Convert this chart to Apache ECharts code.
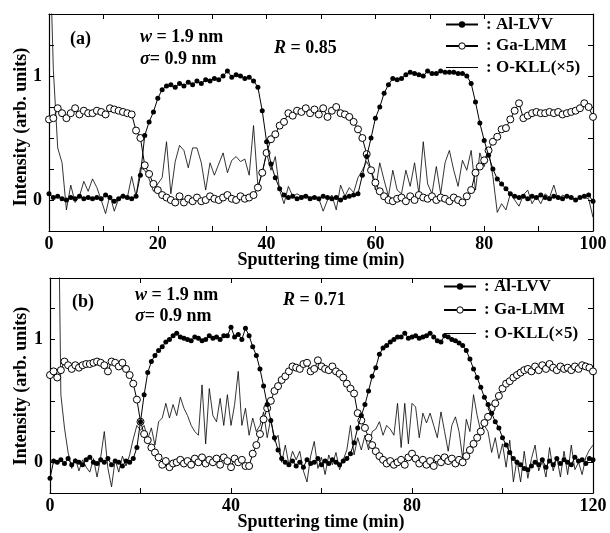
<!DOCTYPE html>
<html>
<head>
<meta charset="utf-8">
<script src="https://cdn.jsdelivr.net/npm/echarts@6/dist/echarts.min.js"></script>
<style>
  html, body { margin: 0; padding: 0; background: #fff; }
  #chart { width: 610px; height: 533px; }
</style>
</head>
<body>
<div id="chart"></div>
<script>
// Depth profiles: Auger intensities vs sputtering time, two samples.
// Sampling interval of the depth profiles (min)
const STEP_A = 0.8;
const STEP_B = 0.8;

// Panel (a): 0–100 min
const alA = [0.05,0.02,0.03,0.01,0.00,0.02,0.01,0.03,0.01,0.02,
  0.01,0.02,0.01,0.04,0.02,-0.01,0.01,0.03,0.02,0.01,
  0.03,0.20,0.52,0.63,0.71,0.82,0.89,0.92,0.93,0.91,
  0.94,0.92,0.95,0.93,0.96,0.94,0.97,0.96,0.98,0.97,
  1.00,1.04,0.99,1.01,1.00,0.98,0.99,0.96,0.91,0.72,
  0.47,0.29,0.18,0.09,0.04,0.02,0.03,0.01,0.02,0.03,
  0.01,0.02,0.01,0.03,0.02,0.01,0.02,0.00,0.02,0.03,
  0.04,0.05,0.20,0.35,0.50,0.66,0.75,0.86,0.93,0.98,
  0.97,0.98,1.01,1.03,1.02,1.01,1.00,1.04,1.02,1.02,
  1.04,1.03,1.03,1.03,1.02,1.02,1.00,0.94,0.79,0.62,
  0.48,0.36,0.25,0.17,0.13,0.09,0.05,0.03,0.02,0.03,
  0.01,0.03,0.02,0.04,0.02,0.01,0.03,0.02,0.01,0.03,
  0.02,0.00,0.02,0.03,0.04,-0.01];
const gaA = [0.65,0.66,0.74,0.70,0.66,0.70,0.74,0.69,0.72,0.70,
  0.70,0.72,0.71,0.69,0.74,0.73,0.72,0.71,0.70,0.69,
  0.56,0.50,0.28,0.21,0.13,0.08,0.04,0.02,0.00,-0.02,
  0.03,-0.02,0.01,-0.01,0.02,-0.01,0.00,0.03,0.01,0.00,
  0.02,0.04,0.01,0.00,0.03,0.01,0.02,0.04,0.10,0.22,
  0.38,0.49,0.53,0.60,0.63,0.70,0.68,0.72,0.71,0.74,
  0.70,0.73,0.69,0.74,0.67,0.72,0.75,0.70,0.69,0.67,
  0.63,0.57,0.50,0.37,0.24,0.14,0.07,0.03,0.00,-0.01,
  0.01,0.02,-0.01,0.03,0.00,0.04,0.02,0.01,0.03,0.00,
  0.02,0.01,-0.01,0.02,0.00,-0.02,0.03,0.08,0.22,0.27,
  0.32,0.40,0.47,0.51,0.57,0.58,0.65,0.72,0.78,0.66,
  0.68,0.70,0.71,0.70,0.70,0.71,0.70,0.71,0.69,0.70,
  0.71,0.72,0.74,0.78,0.75,0.67];
const oA = [2.30,1.05,0.42,0.30,-0.08,0.12,-0.02,0.03,0.15,0.07,
  0.17,0.10,0.00,-0.11,0.04,-0.09,0.01,0.05,0.02,0.19,
  0.03,0.26,0.24,0.17,0.07,0.13,0.18,0.47,0.05,0.31,
  0.44,0.40,0.26,0.42,0.42,0.30,0.08,0.30,0.20,0.29,
  0.38,0.22,0.32,0.35,0.31,0.33,0.20,0.60,0.11,0.22,
  0.38,0.24,0.35,0.08,-0.03,0.11,0.03,0.05,0.03,0.04,
  0.02,0.03,0.01,-0.09,0.00,0.04,-0.08,0.12,0.03,0.10,
  0.06,0.18,0.24,0.31,0.24,0.08,0.30,0.16,0.03,0.24,
  0.08,0.05,0.24,0.11,0.30,0.05,0.47,0.13,0.05,0.27,
  0.05,0.30,0.40,0.24,0.11,0.32,0.24,0.40,0.08,0.38,
  0.27,0.40,0.19,-0.10,-0.03,-0.08,0.05,0.00,-0.05,0.04,
  0.08,-0.03,0.03,-0.03,0.05,0.02,0.12,0.00,0.04,0.02,
  0.03,-0.01,0.03,0.02,0.01,-0.14];

// Panel (b): 0–120 min
const alB = [-0.13,0.01,0.00,0.02,-0.01,0.03,-0.02,0.01,0.00,-0.02,
  0.02,0.04,0.00,-0.01,0.02,0.00,0.03,-0.02,0.01,0.00,
  -0.03,0.01,0.00,0.03,0.12,0.33,0.55,0.73,0.82,0.87,
  0.91,0.94,0.98,1.00,1.03,1.05,1.02,1.01,1.00,0.99,
  1.02,1.01,0.99,1.00,1.03,1.01,1.02,1.00,1.03,1.03,
  1.10,1.02,1.04,1.00,1.09,1.03,0.94,0.87,0.76,0.62,
  0.47,0.34,0.20,0.10,0.03,0.00,-0.02,0.01,-0.03,0.00,
  -0.04,0.02,-0.01,0.00,0.03,-0.02,0.01,-0.01,0.02,0.00,
  -0.02,0.01,0.03,0.07,0.16,0.28,0.38,0.47,0.58,0.70,
  0.77,0.88,0.93,0.95,0.98,1.00,1.02,1.02,1.05,1.01,
  1.02,1.03,1.01,1.02,1.03,1.05,1.02,0.99,0.98,1.03,
  1.02,1.00,0.99,0.97,0.95,0.91,0.84,0.76,0.69,0.61,
  0.53,0.47,0.40,0.33,0.28,0.20,0.14,0.08,0.03,0.00,
  -0.02,-0.05,-0.06,-0.03,0.00,-0.02,0.02,-0.04,0.01,-0.02,
  0.03,-0.01,0.02,0.00,-0.02,0.04,0.01,0.02,-0.01,0.03,
  0.02];
const gaB = [0.71,0.74,0.69,0.75,0.82,0.79,0.76,0.79,0.77,0.79,
  0.80,0.80,0.81,0.82,0.81,0.79,0.74,0.82,0.81,0.78,
  0.81,0.76,0.71,0.64,0.51,0.33,0.23,0.18,0.12,0.08,
  0.04,-0.02,0.01,-0.04,-0.01,0.00,0.02,-0.01,0.01,-0.02,
  0.03,0.00,0.04,-0.01,0.02,0.00,0.03,-0.02,0.04,0.01,
  -0.04,0.03,0.00,0.02,-0.03,-0.03,0.07,0.14,0.23,0.35,
  0.44,0.50,0.58,0.62,0.67,0.70,0.74,0.78,0.77,0.76,
  0.80,0.81,0.74,0.76,0.83,0.78,0.76,0.75,0.78,0.74,
  0.72,0.69,0.64,0.60,0.56,0.40,0.34,0.28,0.20,0.14,
  0.09,0.05,0.02,-0.01,0.01,-0.02,0.00,0.02,-0.02,0.04,
  0.07,0.03,-0.01,0.02,-0.02,0.01,-0.03,0.03,0.00,0.04,
  0.01,0.03,-0.01,0.02,0.00,0.05,0.10,0.15,0.20,0.25,
  0.32,0.37,0.44,0.48,0.54,0.60,0.64,0.66,0.69,0.71,
  0.73,0.75,0.76,0.74,0.78,0.75,0.79,0.76,0.80,0.77,
  0.75,0.78,0.76,0.77,0.75,0.78,0.76,0.79,0.78,0.77,
  0.74];
const oB = [4.50,4.00,3.00,0.55,0.28,0.08,-0.05,0.03,-0.07,0.02,
  -0.04,-0.08,0.03,-0.12,0.04,0.25,-0.05,-0.20,0.02,-0.08,
  0.05,-0.03,0.06,0.19,0.30,0.26,0.30,0.19,0.28,0.14,
  0.33,0.36,0.48,0.36,0.47,0.38,0.53,0.44,0.38,0.30,
  0.25,0.22,0.63,0.15,0.60,0.38,0.33,0.52,0.30,0.55,
  0.30,0.47,0.74,0.30,0.44,0.22,0.36,0.25,0.30,0.41,
  0.20,0.36,0.17,0.22,0.00,0.14,-0.02,0.09,0.02,0.09,
  -0.07,-0.16,0.05,0.17,-0.05,0.04,-0.10,0.06,-0.02,0.08,
  -0.06,0.02,0.10,0.30,0.06,0.20,0.10,0.22,0.10,0.25,
  0.27,0.33,0.22,0.30,0.27,0.22,0.48,0.12,0.48,0.15,
  0.48,0.45,0.20,0.40,0.32,0.40,0.30,0.20,0.41,0.25,
  0.09,0.30,0.37,0.25,0.03,0.35,0.25,0.55,0.38,0.25,
  0.30,0.25,0.08,0.20,0.03,0.15,-0.04,0.18,-0.16,0.02,
  -0.16,0.09,-0.13,0.03,0.14,-0.07,0.01,-0.12,0.12,-0.07,
  0.04,-0.12,0.09,-0.10,0.14,-0.06,0.00,-0.10,0.04,0.10,
  0.14];

const SERIES_NAMES = ['Al-LVV', 'Ga-LMM', 'O-KLL(×5)'];
const X_TITLE = 'Sputtering time (min)';
const Y_TITLE = 'Intensity (arb. units)';

const FONT = '"Liberation Serif", "Times New Roman", serif';
const BLACK = '#000';

const toPairs = (vals, step) => vals.map((v, i) => [+(i * step).toFixed(2), v]);

function xAxisPair(grid, max, interval, labelEvery) {
  const base = {
    gridIndex: grid, type: 'value', min: 0, max: max, interval: interval,
    axisLine: { onZero: false, lineStyle: { color: BLACK, width: 1.2 } },
    axisTick: { inside: true, length: 5, lineStyle: { color: BLACK, width: 1 } },
    splitLine: { show: false }
  };
  return [
    Object.assign({}, base, {
      position: 'bottom',
      axisLabel: {
        margin: 4, color: BLACK, fontFamily: FONT, fontWeight: 'bold', fontSize: 18,
        formatter: v => (v % labelEvery === 0 ? String(v) : '')
      }
    }),
    Object.assign({}, base, { position: 'top', axisLabel: { show: false } })
  ];
}

function yAxisPair(grid) {
  const base = {
    gridIndex: grid, type: 'value', min: -0.25, max: 1.5, interval: 0.25,
    axisLine: { show: true, onZero: false, lineStyle: { color: BLACK, width: 1.2 } },
    axisTick: { show: true, inside: true, length: 5, lineStyle: { color: BLACK, width: 1 } },
    splitLine: { show: false }
  };
  return [
    Object.assign({}, base, {
      position: 'left',
      axisLabel: {
        margin: 7, color: BLACK, fontFamily: FONT, fontWeight: 'bold', fontSize: 18,
        formatter: v => (Math.abs(v) < 1e-9 ? '0' : Math.abs(v - 1) < 1e-9 ? '1' : '')
      }
    }),
    Object.assign({}, base, { position: 'right', axisLabel: { show: false } })
  ];
}

function panelSeries(xIdx, yIdx, al, ga, o) {
  return [
    {
      name: SERIES_NAMES[2], type: 'line', xAxisIndex: xIdx, yAxisIndex: yIdx,
      data: o, symbol: 'none', showSymbol: false, clip: true, z: 1,
      lineStyle: { color: BLACK, width: 0.8 }, itemStyle: { color: BLACK }
    },
    {
      name: SERIES_NAMES[1], type: 'line', xAxisIndex: xIdx, yAxisIndex: yIdx,
      data: ga, symbol: 'circle', symbolSize: 7, showAllSymbol: true, clip: true, z: 2,
      lineStyle: { color: BLACK, width: 1 },
      itemStyle: { color: '#fff', borderColor: BLACK, borderWidth: 1 }
    },
    {
      name: SERIES_NAMES[0], type: 'line', xAxisIndex: xIdx, yAxisIndex: yIdx,
      data: al, symbol: 'circle', symbolSize: 5, showAllSymbol: true, clip: true, z: 3,
      lineStyle: { color: BLACK, width: 1 },
      itemStyle: { color: BLACK }
    }
  ];
}

function legendAt(left, top, gap) {
  return {
    orient: 'vertical', left: left, top: top, itemWidth: 32, itemHeight: 8, itemGap: gap,
    selectedMode: false, padding: 0,
    formatter: name => ': ' + name,
    textStyle: { color: BLACK, fontFamily: FONT, fontWeight: 'bold', fontSize: 17, padding: [0, 0, 0, 3] },
    data: [
      { name: SERIES_NAMES[0], itemStyle: { color: BLACK } },
      { name: SERIES_NAMES[1], itemStyle: { color: '#fff', borderColor: BLACK, borderWidth: 1 } },
      // plain line only: hide the marker the legend adds by default
      { name: SERIES_NAMES[2], itemStyle: { color: 'rgba(0,0,0,0)', borderWidth: 0, opacity: 0 },
        lineStyle: { color: BLACK, width: 1 } }
    ]
  };
}

function txt(x, y, text, extra) {
  return {
    type: 'text', x: x, y: y, silent: true,
    style: Object.assign({
      text: text, fill: BLACK, fontFamily: FONT, fontWeight: 'bold', fontSize: 18,
      align: 'left', verticalAlign: 'middle',
      rich: { i: { fontStyle: 'italic', fontWeight: 'bold', fontSize: 18, fontFamily: FONT, fill: BLACK } }
    }, extra || {})
  };
}

const option = {
  animation: false,
  backgroundColor: '#fff',
  grid: [
    { left: 49, top: 14, width: 544, height: 217 },
    { left: 50, top: 278, width: 543, height: 215 }
  ],
  xAxis: [].concat(xAxisPair(0, 100, 10, 20), xAxisPair(1, 120, 20, 40)),
  yAxis: [].concat(yAxisPair(0), yAxisPair(1)),
  legend: [legendAt(445, 16, 4.5), legendAt(443, 278, 6.5)],
  series: [].concat(
    panelSeries(0, 0, toPairs(alA, STEP_A), toPairs(gaA, STEP_A), toPairs(oA, STEP_A)),
    panelSeries(2, 2, toPairs(alB, STEP_B), toPairs(gaB, STEP_B), toPairs(oB, STEP_B))
  ),
  graphic: [
    txt(70, 39, '(a)'),
    txt(140, 37, '{i|w} = 1.9 nm'),
    txt(140, 59, '{i|σ}= 0.9 nm'),
    txt(274, 48, '{i|R} = 0.85'),
    txt(72, 302, '(b)'),
    txt(135, 295, '{i|w} = 1.9 nm'),
    txt(135, 316, '{i|σ}= 0.9 nm'),
    txt(283, 300, '{i|R} = 0.71'),
    txt(321, 260, X_TITLE, { align: 'center' }),
    txt(321, 522, X_TITLE, { align: 'center' }),
    Object.assign(txt(21, 127, Y_TITLE, { align: 'center' }), { rotation: Math.PI / 2 }),
    Object.assign(txt(21, 386, Y_TITLE, { align: 'center' }), { rotation: Math.PI / 2 })
  ]
};

const chart = echarts.init(document.getElementById('chart'), null, { renderer: 'canvas' });
chart.setOption(option);
</script>
</body>
</html>
